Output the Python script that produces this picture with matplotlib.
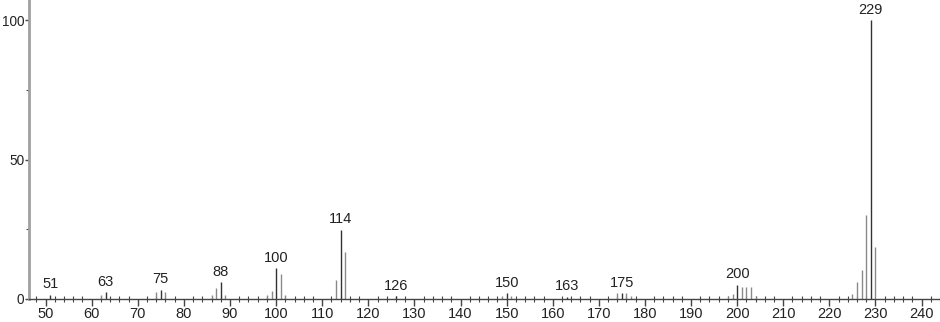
import matplotlib
matplotlib.use('Agg')
import matplotlib.pyplot as plt
from matplotlib.ticker import MultipleLocator

plt.rcParams['font.family'] = ['Liberation Sans', 'DejaVu Sans']

# m/z and relative intensity
mz = [51, 62, 63, 74, 75, 76, 86, 87, 88, 89, 98, 99, 100, 101, 102,
      113, 114, 115, 126, 149, 150, 151, 163, 174, 175, 176, 177,
      198, 199, 200, 201, 202, 203, 204, 225, 226, 227, 228, 229, 230]
intensity = [1.5, 1.5, 2.4, 2.6, 3.4, 2.6, 1.3, 4.0, 6.1, 1.3, 1.3, 3.0, 11.0, 9.0, 1.5,
             6.7, 24.8, 16.7, 1.0, 1.2, 2.0, 1.2, 0.8, 2.0, 2.0, 2.0, 1.0,
             1.0, 1.9, 5.1, 4.2, 4.4, 4.4, 1.0, 1.9, 6.1, 10.5, 30.2, 100.0, 18.6]
labelled = [51, 63, 75, 88, 100, 114, 126, 150, 163, 175, 200, 229]

fig = plt.figure(figsize=(9.4, 3.22), dpi=100)
ax = fig.add_axes([29 / 940, 23 / 322, 911 / 940, 299 / 322])

for m, h in zip(mz, intensity):
    col = '#333333' if m in labelled else '#8a8a8a'
    ax.vlines(m, 0, h, color=col, linewidth=1.0)

for m in labelled:
    h = intensity[mz.index(m)]
    ax.text(m, h + 1.2, str(m), ha='center', va='bottom', fontsize=10.5,
            color='#222222')

ax.set_xlim(46.4, 244.0)
ax.set_ylim(0, 107.2)

ax.spines['top'].set_visible(False)
ax.spines['right'].set_visible(False)
ax.spines['left'].set_color('#a0a0a0')
ax.spines['left'].set_linewidth(2.0)
ax.spines['bottom'].set_color('#444444')
ax.spines['bottom'].set_linewidth(1.0)

ax.xaxis.set_major_locator(MultipleLocator(10))
ax.xaxis.set_minor_locator(MultipleLocator(2))
ax.yaxis.set_major_locator(MultipleLocator(50))
ax.yaxis.set_minor_locator(MultipleLocator(25))

ax.tick_params(axis='x', which='major', direction='out', length=5, width=1,
               color='#444444', labelsize=10.5, pad=1, labelcolor='#222222')
ax.tick_params(axis='x', which='minor', direction='inout', length=5, width=0.8,
               color='#444444')
ax.tick_params(axis='y', which='major', direction='out', length=3, width=1,
               color='#444444', labelsize=9.8, pad=0.5, labelcolor='#222222')
ax.tick_params(axis='y', which='minor', direction='out', length=2, width=0.8,
               color='#444444')

fig.savefig('out.png', dpi=100)
